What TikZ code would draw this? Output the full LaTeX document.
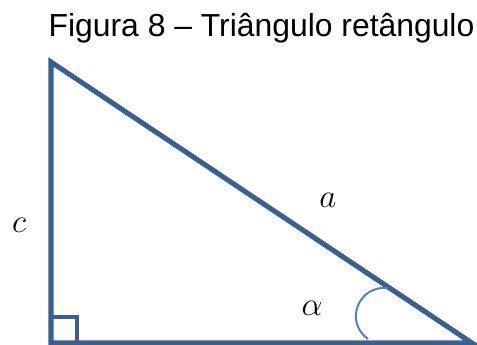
\documentclass[tikz,border=0pt]{standalone}
\usepackage{fontspec}
\setmainfont{Liberation Sans}

\begin{document}
\begin{tikzpicture}[
  x=0.75pt,y=-0.75pt,
  side/.style={draw=edgeblue,line width=3.8pt,line join=miter},
  rightmark/.style={draw=edgeblue,line width=3pt},
  arcline/.style={draw=arcblue,line width=1.5pt},
  lbl/.style={font=\fontsize{26}{30}\selectfont,inner sep=0pt},
  caption/.style={font=\fontsize{23.9}{28}\selectfont,anchor=base,inner sep=0pt},
]
  \definecolor{edgeblue}{RGB}{58,96,146}
  \definecolor{arcblue}{RGB}{79,129,189}
  \useasboundingbox (0,0) rectangle (477,345);
  \def\sq{26}
  \coordinate (A) at (51,62);
  \coordinate (B) at (51,343);
  \coordinate (C) at (472,343);
  \node[caption] (title) at (261.5,37) {Figura 8 – Triângulo retângulo};
  \draw[side] (A) -- (B) -- (C) -- cycle;
  \draw[rightmark] (B) ++(0,-\sq) -| ++(\sq,\sq);
  \coordinate (arcS) at (388,288);
  \coordinate (arcE) at (368,339);
  \draw[arcline] (arcS) .. controls (358,285) and (344,322) .. (arcE);
  \node[lbl] (c) at (19,225) {$c$};
  \node[lbl] (a) at (328,200) {$a$};
  \node[lbl] (alpha) at (312,308) {$\alpha$};
\end{tikzpicture}
\end{document}
